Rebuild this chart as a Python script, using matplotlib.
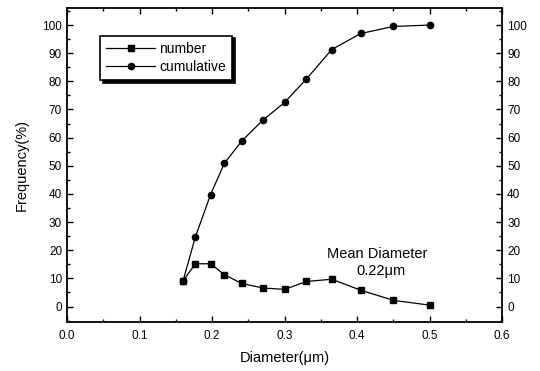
import matplotlib
matplotlib.use("Agg")
import matplotlib.pyplot as plt
from matplotlib.ticker import MultipleLocator, FormatStrFormatter

plt.rcParams['font.family'] = ['Liberation Sans', 'DejaVu Sans']

diameter = [0.160, 0.177, 0.198, 0.217, 0.241, 0.270, 0.300, 0.330, 0.365, 0.405, 0.450, 0.500]
number = [9.1, 15.2, 15.2, 11.3, 8.2, 6.6, 6.1, 8.9, 9.7, 5.8, 2.2, 0.5]
cumulative = [9.1, 24.7, 39.8, 50.9, 58.8, 66.2, 72.5, 80.8, 91.3, 97.0, 99.5, 100.0]

fig = plt.figure(figsize=(5.4, 3.71), dpi=100)
ax = fig.add_axes([0.124, 0.132, 0.806, 0.846])

ax.plot(diameter, number, color='black', lw=0.9, marker='s', ms=4.5, label='number')
ax.plot(diameter, cumulative, color='black', lw=0.9, marker='o', ms=4.5, label='cumulative')

ax.set_xlim(0, 0.6)
ax.set_ylim(-5.5, 106)
ax.xaxis.set_major_locator(MultipleLocator(0.1))
ax.xaxis.set_minor_locator(MultipleLocator(0.05))
ax.xaxis.set_major_formatter(FormatStrFormatter('%.1f'))
ax.yaxis.set_major_locator(MultipleLocator(10))
ax.yaxis.set_minor_locator(MultipleLocator(5))

ax.tick_params(which='both', direction='in', top=True, right=True,
               labelright=True, labelsize=8.5, width=1)
ax.tick_params(which='major', length=4)
ax.tick_params(which='minor', length=2)
ax.tick_params(axis='x', pad=6)
for s in ax.spines.values():
    s.set_linewidth(1.3)

ax.set_xlabel('Diameter(μm)', fontsize=10.5, labelpad=6)
ax.set_ylabel('Frequency(%)', fontsize=10.5, labelpad=10)

leg = ax.legend(loc='upper left', bbox_to_anchor=(0.06, 0.935), fontsize=10,
                frameon=True, fancybox=False,
                shadow={'color': 'black', 'alpha': 1, 'ox': 2, 'oy': -2},
                edgecolor='black', borderpad=0.45, handlelength=3.5,
                labelspacing=0.3, handletextpad=0.3)
leg.get_frame().set_linewidth(1.2)

ax.text(0.428, 18.5, 'Mean Diameter', fontsize=10.5, ha='center', va='center')
ax.text(0.433, 12.5, '0.22μm', fontsize=10.5, ha='center', va='center')

fig.savefig('out.png', dpi=100)
